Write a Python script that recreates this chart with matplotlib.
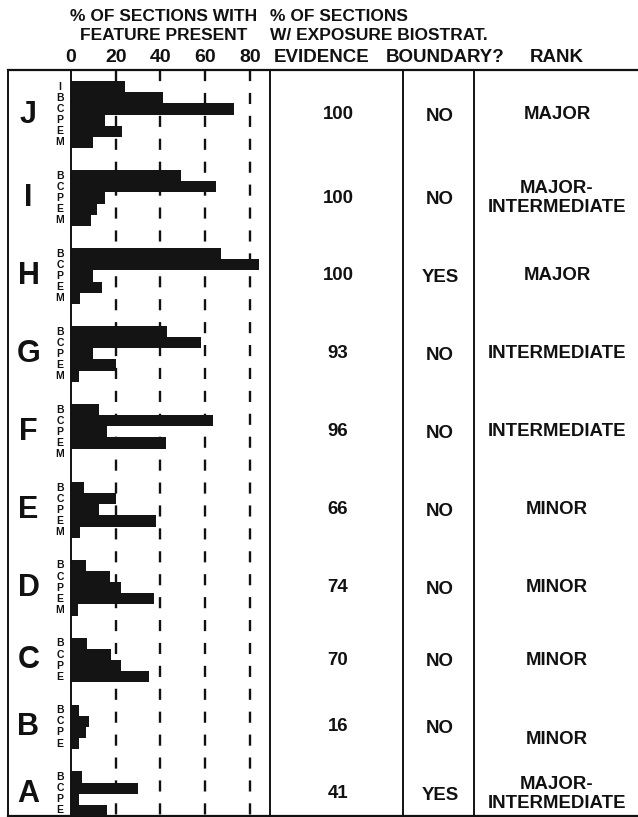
import numpy as np
import matplotlib
matplotlib.use("Agg")
from matplotlib import pyplot as plt
from matplotlib import transforms

plt.rcParams['font.family'] = ['Liberation Sans', 'DejaVu Sans']
plt.rcParams['font.weight'] = 'bold'
plt.rcParams['lines.scale_dashes'] = False

########################## DATA
groups = ['J', 'I', 'H', 'G', 'F', 'E', 'D', 'C', 'B', 'A']
features = {
    'J': ['I', 'B', 'C', 'P', 'E', 'M'],
    'I': ['B', 'C', 'P', 'E', 'M'],
    'H': ['B', 'C', 'P', 'E', 'M'],
    'G': ['B', 'C', 'P', 'E', 'M'],
    'F': ['B', 'C', 'P', 'E', 'M'],
    'E': ['B', 'C', 'P', 'E', 'M'],
    'D': ['B', 'C', 'P', 'E', 'M'],
    'C': ['B', 'C', 'P', 'E'],
    'B': ['B', 'C', 'P', 'E'],
    'A': ['B', 'C', 'P', 'E'],
}
pct_present = {
    'J': [24, 41, 73, 15, 23, 10],
    'I': [49, 65, 15, 11.5, 9],
    'H': [67, 84, 10, 14, 4],
    'G': [43, 58, 10, 20, 3.5],
    'F': [12.5, 63.5, 16, 42.5, 0],
    'E': [6, 20, 12.5, 38, 4],
    'D': [6.5, 17.5, 22.5, 37, 3],
    'C': [7, 18, 22.5, 35],
    'B': [3.5, 8, 6.5, 3.5],
    'A': [5, 30, 3.5, 16],
}
exposure_pct = [100, 100, 100, 93, 96, 66, 74, 70, 16, 41]
biostrat = ['NO', 'NO', 'YES', 'NO', 'NO', 'NO', 'NO', 'NO', 'NO', 'YES']
rank = ['MAJOR', 'MAJOR-\nINTERMEDIATE', 'MAJOR', 'INTERMEDIATE', 'INTERMEDIATE',
        'MINOR', 'MINOR', 'MINOR', 'MINOR', 'MAJOR-\nINTERMEDIATE']
xticks = [0, 20, 40, 60, 80]

########################## LAYOUT
W, H = 638, 817
fig = plt.figure(figsize=(W / 100, H / 100), dpi=100)
fig.patch.set_facecolor('white')

x_left, x_bars_right, x_ev, x_bd = 8, 270, 403, 474
y_top, y_bot = 70, 816
px_per_pct = 2.2375
x_zero = 71

# overlay in pixel units for frame and headers
tab = fig.add_axes([0, 0, 1, 1])
tab.set_xlim(0, W)
tab.set_ylim(H, 0)
tab.axis('off')

# bar axes
ax = fig.add_axes([x_left / W, 1 - y_bot / H, (x_bars_right - x_left) / W, (y_bot - y_top) / H])
ax.set_xlim(-(x_zero - x_left) / px_per_pct, (x_bars_right - x_zero) / px_per_pct)
ax.patch.set_alpha(0)
for s in ax.spines.values():
    s.set_visible(False)

# row positions: one blank row at top, two blank rows between groups
row = 0
rows, centers = {}, []
for g in groups:
    n = len(features[g])
    rows[g] = np.arange(row, row + n)
    centers.append(row + (n - 1) / 2)
    row += n + 2
last_row = row - 2
ax.set_ylim(last_row - 0.5, -1.5)

# dashed grid and zero line
ax.vlines(xticks[1:], -1.5, last_row - 0.5, colors='#111111', linewidth=1.7,
          linestyles=[(0, (8, 8.5))], zorder=1)
ax.axvline(0, color='#111111', linewidth=1.4, zorder=3)

for i, g in enumerate(groups):
    ax.barh(rows[g], pct_present[g], height=1.0, color='#141414', linewidth=0, zorder=2)
    for r, f in zip(rows[g], features[g]):
        ax.text(-4.9, r, f, ha='center', va='center', fontsize=7.5, fontweight='bold', color='#111111')
    ax.text(-19, centers[i], g, ha='center', va='center', fontsize=22, fontweight='bold', color='#111111')

ax.xaxis.tick_top()
ax.set_xticks(xticks)
ax.set_xticklabels([str(t) for t in xticks], fontsize=14, fontweight='bold', color='#111111')
ax.tick_params(axis='x', length=0, pad=3)
ax.set_yticks([])

# table frame
lc = '#111111'
tab.plot([x_left, W], [y_top, y_top], color=lc, lw=1.6)
tab.plot([x_left, W], [y_bot, y_bot], color=lc, lw=1.6)
for xv in [x_left, x_bars_right, x_ev, x_bd]:
    tab.plot([xv, xv], [y_top, y_bot], color=lc, lw=1.4)

# headers
hk = dict(fontsize=12.5, fontweight='bold', color='#111111', va='center')
tab.text(164, 16, '% OF SECTIONS WITH', ha='center', **hk)
tab.text(164, 35, 'FEATURE PRESENT', ha='center', **hk)
tab.text(270, 16, '% OF SECTIONS', ha='left', **hk)
tab.text(270, 35, 'W/ EXPOSURE BIOSTRAT.', ha='left', **hk)
hk['fontsize'] = 13.5
tab.text(322, 57, 'EVIDENCE', ha='center', **hk)
tab.text(445, 57, 'BOUNDARY?', ha='center', **hk)
tab.text(557, 57, 'RANK', ha='center', **hk)

# table cells: x in pixels, y in bar rows
mixed = transforms.blended_transform_factory(tab.transData, ax.transData)
ck = dict(fontsize=13.4, fontweight='bold', color='#111111', ha='center', va='center',
          transform=mixed, linespacing=1.15)
rank_shift = {'B': 1.1}
for i, g in enumerate(groups):
    yc = centers[i]
    tab.text(338, yc, str(exposure_pct[i]), **ck)
    tab.text(440, yc + 0.15, biostrat[i], **ck)
    tab.text(557, yc + rank_shift.get(g, 0), rank[i], **ck)

fig.savefig('out.png', dpi=100)
